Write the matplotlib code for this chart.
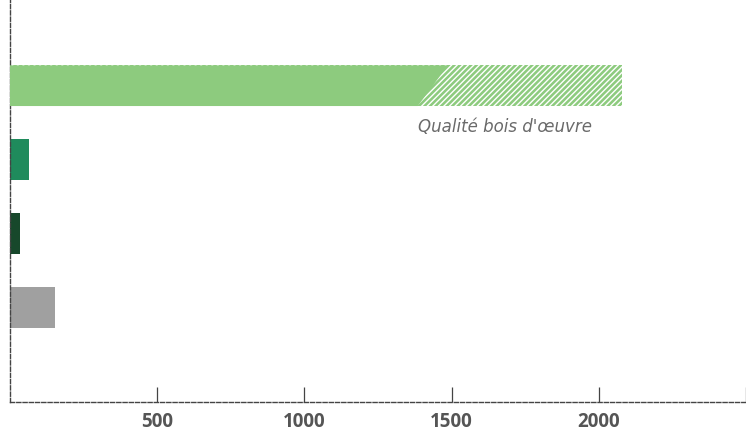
import matplotlib.pyplot as plt
from matplotlib.patches import Polygon

# Volumes by use (the first bar is split into a solid part and a hatched part)
categories = ['Bois total', 'Usage 2', 'Usage 3', 'Autres']
values = [2078, 65, 35, 152]
colors = ['#8dcb7e', '#1f8b5c', '#17482b', '#a0a0a0']
# solid part of the first bar: end value at bottom and top of the slanted cut
solid_bottom = 1385
solid_top = 1487
hatch_label = "Qualité bois d'œuvre"
xticks = [500, 1000, 1500, 2000, 2500]
xticklabels = ['500', '1000', '1500', '2000', '']

plt.rcParams['hatch.linewidth'] = 1.0

W, H = 746, 437
fig = plt.figure(figsize=(W / 100, H / 100), dpi=100)
ax = fig.add_axes([10 / W, 35 / H, 736 / W, 402 / H])

bar_h = 0.55
ypos = list(range(len(categories)))

# hatched full-length first bar, then the solid part drawn on top with a slanted edge
ax.barh(ypos[0], values[0], height=bar_h, color=colors[0], edgecolor='white',
        hatch='//////', linewidth=0)
y0, y1 = ypos[0] + bar_h / 2, ypos[0] - bar_h / 2
ax.add_patch(Polygon([(0, y0), (solid_bottom, y0), (solid_top, y1), (0, y1)],
                     closed=True, facecolor=colors[0], edgecolor='none', zorder=3))

ax.barh(ypos[1:], values[1:], height=bar_h, color=colors[1:], linewidth=0)

ax.text(solid_bottom, ypos[0] + bar_h / 2 + 0.29, hatch_label, fontsize=12,
        style='italic', color='#6a6a6a', ha='left', va='center', family='DejaVu Sans')

ax.set_xlim(0, 2500)
ax.set_ylim(len(categories) - 1 + 1.28, -1.16)
ax.set_yticks([])
ax.set_xticks(xticks)
ax.set_xticklabels(xticklabels, fontsize=13.5, color='#555555', family='Open Sans',
                   fontweight='bold')
ax.tick_params(axis='x', direction='in', length=10.5, width=0.9, color='#444444', pad=7)

for side in ['top', 'right']:
    ax.spines[side].set_visible(False)
for side in ['left', 'bottom']:
    ax.spines[side].set_linestyle((0, (3, 1.5)))
    ax.spines[side].set_color('#444444')
    ax.spines[side].set_linewidth(1.0)

fig.savefig('out.png', dpi=100)
